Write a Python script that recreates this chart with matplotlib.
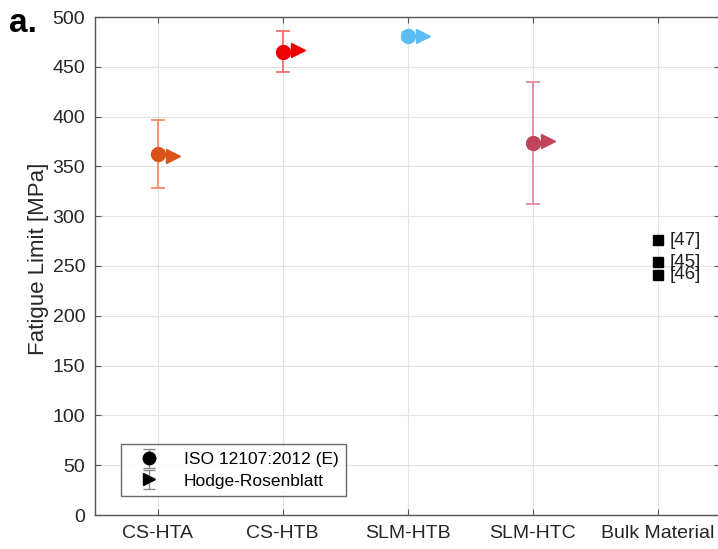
import matplotlib
matplotlib.use("Agg")
import matplotlib.pyplot as plt
from matplotlib.legend_handler import HandlerErrorbar

plt.rcParams['font.family'] = ['Liberation Sans', 'DejaVu Sans']

categories = ["CS-HTA", "CS-HTB", "SLM-HTB", "SLM-HTC", "Bulk Material"]
iso_mean = [362, 465, 481, 373]
iso_low = [328, 445, 477, 312]
iso_high = [397, 486, 485, 435]
hodge_rosenblatt = [360, 467, 481, 376]
point_colors = ["#D95319", "#F00000", "#5CBDF5", "#C0445C"]
bar_colors = ["#F28A6A", "#F27070", "#A8DDF8", "#E58A9A"]
bulk_values = [276, 254, 241]
bulk_refs = ["[47]", "[45]", "[46]"]
yticks = list(range(0, 501, 50))

fig = plt.figure(figsize=(7.18, 5.49), dpi=100)
ax = fig.add_axes([95/718, 1 - 515/549, (720 - 95)/718, (515 - 17)/549])

x = list(range(1, len(categories) + 1))
offset = 0.12
for i in range(len(iso_mean)):
    err = [[iso_mean[i] - iso_low[i]], [iso_high[i] - iso_mean[i]]]
    ax.errorbar(x[i], iso_mean[i], yerr=err, fmt='none', ecolor=bar_colors[i],
                elinewidth=1.3, capsize=5, capthick=1.3, zorder=2)
    ax.plot(x[i], iso_mean[i], 'o', color=point_colors[i], markersize=10, zorder=3)
    ax.plot(x[i] + offset, hodge_rosenblatt[i], '>', color=point_colors[i],
            markersize=10, zorder=3)

for v, ref in zip(bulk_values, bulk_refs):
    ax.plot(x[4], v, 's', color='black', markersize=6.5, zorder=3)
    ax.text(x[4] + 0.1, v, ref, va='center', ha='left', fontsize=13.5, color='#222222')

ax.set_xlim(0.5, 5.5)
ax.set_ylim(0, 500)
ax.set_xticks(x)
ax.set_xticklabels(categories, fontsize=14, color='#262626')
ax.set_yticks(yticks)
ax.set_yticklabels([str(t) for t in yticks], fontsize=14, color='#262626')
ax.set_ylabel("Fatigue Limit [MPa]", fontsize=16, color='#262626')
ax.yaxis.set_label_coords(-0.074, 0.515)
ax.grid(True, color='#E3E3E3', linewidth=0.8)
ax.set_axisbelow(True)
ax.tick_params(direction='in', top=True, right=True, length=4, color='#555555', pad=7)
for s in ax.spines.values():
    s.set_color('#555555')
    s.set_linewidth(1.0)

# legend handles: black markers with small grey error bars (no visible data)
h_iso = ax.errorbar([float('nan')], [float('nan')], yerr=[1.0], fmt='o', color='black',
                    ecolor='#8A8A8A', markersize=9, capsize=4, elinewidth=1.0, capthick=1.0)
h_hr = ax.errorbar([float('nan')], [float('nan')], yerr=[1.0], fmt='>', color='black',
                   ecolor='#8A8A8A', markersize=9, capsize=4, elinewidth=1.0, capthick=1.0)
leg = ax.legend([h_iso, h_hr], ["ISO 12107:2012 (E)", "Hodge-Rosenblatt"], loc='lower left',
                bbox_to_anchor=(0.027, 0.02), fontsize=12.5, frameon=True, fancybox=False,
                edgecolor='#444444', borderpad=0.45, handletextpad=0.8, labelspacing=0.35,
                handlelength=2.4,
                handler_map={type(h_iso): HandlerErrorbar(yerr_size=0.55)})
leg.get_frame().set_linewidth(1.0)

fig.text(9/718, 1 - 24/549, "a.", fontsize=24, fontweight='bold', va='center', ha='left')

fig.savefig("out.png", dpi=100)
